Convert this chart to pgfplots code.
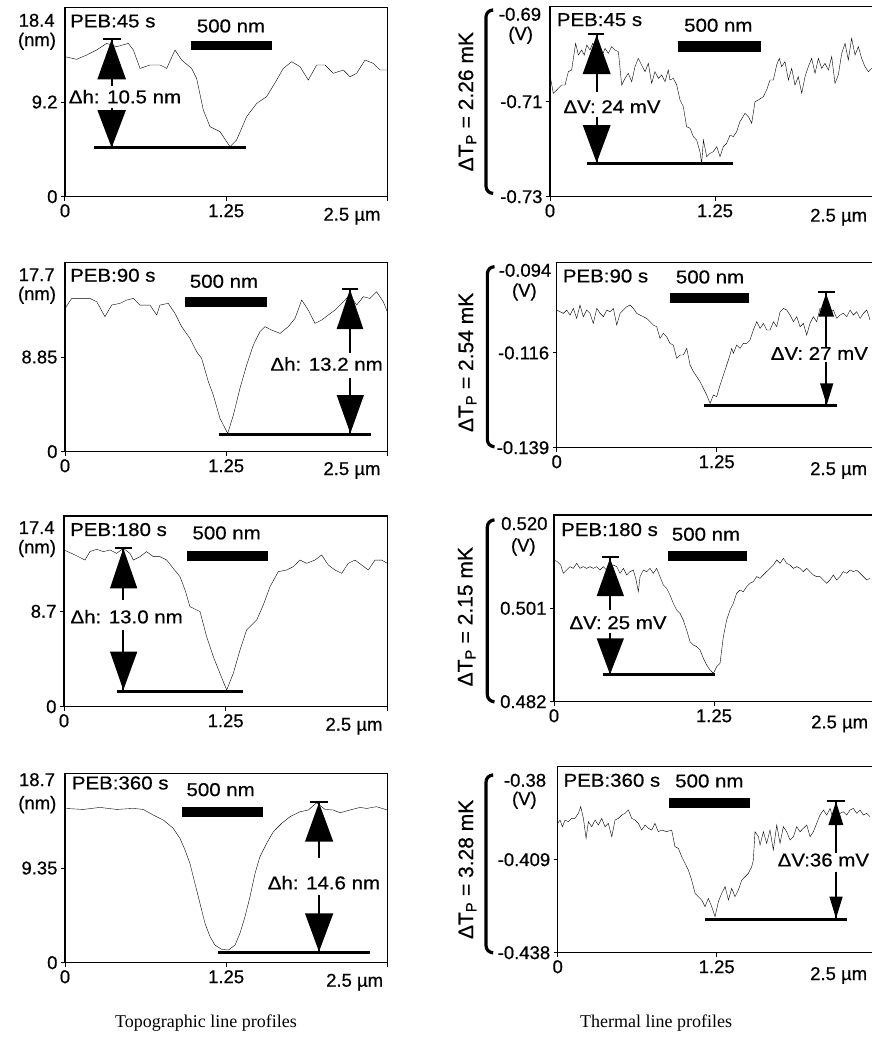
\documentclass[border=0pt]{standalone}
\usepackage{pgfplots}
\pgfplotsset{compat=1.18}
\usepackage{fontspec}
\setmainfont{Liberation Sans}[FakeBold=0.6]
\newfontfamily\annf[FakeStretch=1.1,FakeBold=0.6]{Liberation Sans}
\newfontfamily\capf{Liberation Serif}
\newcommand\tickfont{\fontsize{18.5}{20}\selectfont}
\newcommand\annfont{\annf\fontsize{18.6}{20}\selectfont}
\newcommand\rotfont{\fontsize{21}{22}\selectfont}
\newcommand{\tri}[5]{\fill (axis cs:#1,#2) -- (axis cs:#3,#5) -- (axis cs:#4,#5) -- cycle;}
\newcommand{\vl}[3]{\draw[line width=2.2pt] (axis cs:#1,#2) -- (axis cs:#1,#3);}
\newcommand{\hl}[4]{\draw[line width=#4] (axis cs:#2,#1) -- (axis cs:#3,#1);}
\newcommand{\sbar}[4]{\fill (axis cs:#1,#3) rectangle (axis cs:#2,#4);}
\newcommand{\brk}[4]{\draw[line width=3.2pt, rounded corners=7pt] (axis cs:#2,#3) -- (axis cs:#1,#3) -- (axis cs:#1,#4) -- (axis cs:#2,#4);}
\tikzset{an/.style={font=\annfont}}
\pgfplotsset{
 prof/.style={scale only axis, anchor=south west, xmin=0, xmax=2.5,
   axis line style={line width=1.3pt}, tick align=outside, tick pos=left,
   major tick length=4pt, every tick/.style={black, line width=1pt},
   xtick={0,1.25,2.5}, xticklabels={0,1.25,{}},
   ticklabel style={font=\tickfont},
   cycle list={{black, line width=1pt, mark=none}}},
 ann/.style={scale only axis, anchor=south west, hide axis, clip=false, y dir=reverse},
}
\begin{document}
\begin{tikzpicture}[x=1pt,y=1pt]
\useasboundingbox (0,0) rectangle (872,1054);
% ================= L1
\begin{axis}[prof, at={(65pt,857.3pt)}, width=322.3pt, height=189.3pt,
  ymin=0, ymax=18.4, ytick={0,9.2}, yticklabels={0,9.2}]
\addplot coordinates {(0,13.61)(0.090,13.35)(0.168,13.77)(0.246,14.26)(0.323,14.90)(0.401,14.58)(0.491,14.90)(0.530,14.26)(0.582,12.47)(0.659,12.80)(0.737,12.80)(0.789,12.47)(0.853,14.26)(0.905,13.28)(0.982,12.47)(1.021,11.50)(1.073,8.42)(1.125,6.80)(1.202,6.32)(1.280,4.86)(1.331,5.51)(1.409,7.78)(1.487,9.07)(1.564,9.72)(1.642,11.34)(1.693,12.47)(1.758,13.12)(1.823,12.64)(1.887,11.34)(1.952,12.80)(2.017,12.80)(2.081,11.99)(2.159,12.31)(2.210,11.66)(2.262,11.99)(2.327,13.28)(2.391,12.96)(2.443,12.31)(2.5,12.31)};
\end{axis}
\begin{axis}[ann, at={(65pt,857.3pt)}, width=322.3pt, height=189.3pt,
  xmin=195, xmax=1162, ymin=22, ymax=590]
\node[anchor=base, font=\tickfont] at (axis cs:110,80) {18.4};
\node[anchor=base, font=\tickfont] at (axis cs:111,138) {(nm)};
\node[anchor=base east, font=\tickfont] at (axis cs:1152,662) {2.5 µm};
\node[an, anchor=base west] at (axis cs:200,82) {PEB:45 s};
\node[an, anchor=base] at (axis cs:693,97) {500 nm};
\sbar{572}{815}{122}{150}
\node[an] at (axis cs:375,290) {Δh: 10.5 nm};
\hl{118}{308}{362}{2pt}
\vl{335}{118}{258}
\tri{335}{118}{292}{378}{238}
\vl{335}{325}{443}
\tri{335}{443}{292}{378}{330}
\hl{443}{283}{738}{3pt}
\end{axis}
% ================= L2
\begin{axis}[prof, at={(65pt,602.3pt)}, width=322.3pt, height=189.3pt,
  ymin=0, ymax=17.7, ytick={0,8.85}, yticklabels={0,8.85}]
\addplot coordinates {(0,13.40)(0.052,14.33)(0.116,14.33)(0.194,14.33)(0.246,14.02)(0.310,12.62)(0.362,13.71)(0.427,13.87)(0.478,14.18)(0.530,14.33)(0.582,13.71)(0.659,13.71)(0.711,12.78)(0.737,13.71)(0.801,13.87)(0.853,12.93)(0.905,11.69)(0.969,10.59)(1.021,9.35)(1.060,8.72)(1.112,6.54)(1.150,5.30)(1.202,3.12)(1.262,1.71)(1.306,3.43)(1.357,5.92)(1.409,8.10)(1.461,9.97)(1.512,11.22)(1.551,11.69)(1.603,11.37)(1.668,11.06)(1.732,11.69)(1.784,12.46)(1.836,14.18)(1.887,13.24)(1.939,12.00)(1.991,12.31)(2.042,12.78)(2.094,13.24)(2.159,14.02)(2.210,14.65)(2.262,13.71)(2.314,14.49)(2.366,14.33)(2.417,14.96)(2.469,14.02)(2.5,13.09)};
\end{axis}
\begin{axis}[ann, at={(65pt,602.3pt)}, width=322.3pt, height=189.3pt,
  xmin=195, xmax=1162, ymin=22, ymax=590]
\node[anchor=base, font=\tickfont] at (axis cs:110,78) {17.7};
\node[anchor=base, font=\tickfont] at (axis cs:111,135) {(nm)};
\node[anchor=base east, font=\tickfont] at (axis cs:1152,660) {2.5 µm};
\node[an, anchor=base west] at (axis cs:200,80) {PEB:90 s};
\node[an, anchor=base] at (axis cs:672,98) {500 nm};
\sbar{555}{802}{125}{157}
\node[an] at (axis cs:980,327) {Δh: 13.2 nm};
\hl{103}{1025}{1075}{2pt}
\vl{1050}{103}{295}
\tri{1050}{103}{1010}{1090}{222}
\vl{1050}{370}{537}
\tri{1051}{535}{1010}{1092}{420}
\hl{537}{658}{1113}{3pt}
\end{axis}
% ================= L3
\begin{axis}[prof, at={(64pt,347.3pt)}, width=323.3pt, height=190.7pt,
  ymin=0, ymax=17.4, ytick={0,8.7}, yticklabels={0,8.7}]
\addplot coordinates {(0,14.30)(0.059,13.99)(0.111,13.69)(0.162,13.38)(0.201,14.15)(0.253,14.36)(0.304,14.15)(0.356,14.30)(0.407,13.99)(0.459,14.45)(0.510,13.99)(0.536,13.38)(0.588,13.69)(0.639,14.15)(0.691,13.69)(0.742,13.69)(0.794,13.38)(0.845,12.62)(0.897,11.86)(0.936,10.65)(0.974,9.13)(1.052,8.67)(1.103,6.39)(1.155,4.56)(1.206,3.04)(1.258,1.52)(1.309,3.04)(1.361,5.17)(1.412,7.00)(1.490,7.91)(1.541,9.28)(1.593,10.95)(1.657,12.32)(1.722,12.47)(1.773,12.78)(1.825,13.38)(1.876,13.08)(1.941,13.38)(1.992,13.84)(2.044,12.93)(2.095,12.47)(2.147,12.17)(2.198,13.08)(2.250,13.38)(2.302,12.93)(2.353,12.47)(2.405,13.38)(2.456,13.38)(2.5,13.08)};
\end{axis}
\begin{axis}[ann, at={(64pt,347.3pt)}, width=323.3pt, height=190.7pt,
  xmin=192, xmax=1162, ymin=18, ymax=590]
\node[anchor=base, font=\tickfont] at (axis cs:110,72) {17.4};
\node[anchor=base, font=\tickfont] at (axis cs:111,130) {(nm)};
\node[anchor=base east, font=\tickfont] at (axis cs:1158,662) {2.5 µm};
\node[an, anchor=base west] at (axis cs:200,78) {PEB:180 s};
\node[an, anchor=base] at (axis cs:680,88) {500 nm};
\sbar{562}{805}{122}{152}
\node[an] at (axis cs:380,320) {Δh: 13.0 nm};
\hl{115}{345}{395}{2pt}
\vl{370}{115}{270}
\tri{370}{115}{330}{412}{235}
\vl{370}{360}{543}
\tri{370}{540}{330}{412}{425}
\hl{543}{352}{728}{3pt}
\end{axis}
% ================= L4
\begin{axis}[prof, at={(65pt,91.3pt)}, width=322.3pt, height=189.3pt,
  ymin=0, ymax=18.7, ytick={0,9.35}, yticklabels={0,9.35}]
\addplot coordinates {(0,15.24)(0.142,15.14)(0.271,15.34)(0.401,15.14)(0.530,15.24)(0.608,15.14)(0.685,14.58)(0.763,14.09)(0.840,13.27)(0.892,12.28)(0.931,11.13)(0.969,9.81)(1.008,7.83)(1.047,5.86)(1.086,3.88)(1.125,2.57)(1.163,1.74)(1.215,1.32)(1.267,1.25)(1.319,1.74)(1.357,2.90)(1.396,4.54)(1.435,6.52)(1.474,8.82)(1.512,10.47)(1.564,11.79)(1.616,12.94)(1.680,13.76)(1.745,14.42)(1.823,14.91)(1.887,15.08)(1.952,15.80)(2.017,15.14)(2.081,15.08)(2.133,14.81)(2.210,15.08)(2.288,15.34)(2.340,15.24)(2.417,15.41)(2.5,15.08)};
\end{axis}
\begin{axis}[ann, at={(65pt,91.3pt)}, width=322.3pt, height=189.3pt,
  xmin=195, xmax=1162, ymin=40, ymax=608]
\node[anchor=base, font=\tickfont] at (axis cs:111,78) {18.7};
\node[anchor=base, font=\tickfont] at (axis cs:112,148) {(nm)};
\node[anchor=base east, font=\tickfont] at (axis cs:1160,680) {2.5 µm};
\node[an, anchor=base west] at (axis cs:205,88) {PEB:360 s};
\node[an, anchor=base] at (axis cs:662,108) {500 nm};
\sbar{545}{788}{140}{170}
\node[an] at (axis cs:972,368) {Δh: 14.6 nm};
\hl{125}{930}{985}{2pt}
\vl{957}{125}{295}
\tri{957}{128}{915}{1000}{245}
\vl{957}{405}{577}
\tri{957}{575}{915}{1000}{460}
\hl{577}{655}{1110}{3pt}
\end{axis}
% ================= R1
\begin{axis}[prof, at={(550pt,857.3pt)}, width=330pt, height=190pt,
  ymin=-0.73, ymax=-0.69, ytick={-0.73,-0.71}, yticklabels={-0.73,-0.71}]
\addplot coordinates {(0.000,-0.70438)(0.025,-0.70824)(0.051,-0.70754)(0.088,-0.70649)(0.114,-0.70649)(0.139,-0.70368)(0.164,-0.70333)(0.177,-0.70088)(0.194,-0.69772)(0.215,-0.70017)(0.240,-0.69912)(0.260,-0.70017)(0.278,-0.69807)(0.303,-0.69912)(0.323,-0.69772)(0.348,-0.69947)(0.366,-0.69737)(0.391,-0.70052)(0.417,-0.69877)(0.442,-0.69982)(0.467,-0.69842)(0.492,-0.69912)(0.518,-0.69947)(0.543,-0.70649)(0.568,-0.70509)(0.593,-0.70403)(0.619,-0.70579)(0.644,-0.70263)(0.669,-0.70088)(0.694,-0.70228)(0.720,-0.70368)(0.745,-0.70193)(0.770,-0.70614)(0.795,-0.70368)(0.821,-0.70509)(0.846,-0.70438)(0.871,-0.70579)(0.896,-0.70333)(0.909,-0.70544)(0.934,-0.70509)(0.960,-0.70649)(0.985,-0.70965)(1.010,-0.71105)(1.035,-0.71526)(1.061,-0.71561)(1.086,-0.71737)(1.111,-0.71807)(1.136,-0.72053)(1.149,-0.72298)(1.162,-0.71807)(1.187,-0.72158)(1.212,-0.72088)(1.237,-0.72053)(1.263,-0.71947)(1.288,-0.72158)(1.313,-0.71947)(1.338,-0.71877)(1.364,-0.71702)(1.389,-0.71737)(1.414,-0.71631)(1.439,-0.71421)(1.477,-0.71245)(1.503,-0.71316)(1.528,-0.71456)(1.553,-0.71000)(1.578,-0.70965)(1.616,-0.70895)(1.641,-0.70754)(1.667,-0.70544)(1.692,-0.70544)(1.717,-0.70228)(1.737,-0.70088)(1.755,-0.70263)(1.780,-0.70158)(1.806,-0.70544)(1.831,-0.70298)(1.856,-0.70649)(1.881,-0.70474)(1.907,-0.70824)(1.932,-0.70474)(1.957,-0.70263)(1.982,-0.70088)(2.008,-0.70403)(2.033,-0.70088)(2.058,-0.70298)(2.083,-0.70193)(2.109,-0.70333)(2.134,-0.70052)(2.159,-0.70614)(2.184,-0.70438)(2.210,-0.69982)(2.235,-0.69772)(2.260,-0.70123)(2.285,-0.69666)(2.311,-0.70017)(2.336,-0.69842)(2.361,-0.70088)(2.386,-0.70263)(2.412,-0.70368)(2.437,-0.70298)};
\end{axis}
\begin{axis}[ann, at={(550pt,857.3pt)}, width=330pt, height=190pt,
  xmin=360, xmax=1350, ymin=20, ymax=590]
\node[anchor=base, font=\tickfont] at (axis cs:270,62) {-0.69};
\node[anchor=base, font=\tickfont] at (axis cs:272,120) {(V)};
\node[anchor=base east, font=\tickfont] at (axis cs:1322,665) {2.5 µm};
\node[rotate=90, font=\rotfont] at (axis cs:112,305) {ΔT\textsubscript{P} = 2.26 mK};
\brk{168}{186}{30}{580}
\node[an, anchor=base west] at (axis cs:370,78) {PEB:45 s};
\node[an, anchor=base] at (axis cs:865,95) {500 nm};
\sbar{745}{993}{123}{155}
\node[an] at (axis cs:546,320) {ΔV: 24 mV};
\hl{103}{475}{522}{2pt}
\vl{500}{103}{275}
\tri{500}{105}{458}{542}{222}
\vl{500}{350}{488}
\tri{500}{488}{458}{542}{375}
\hl{490}{470}{910}{3pt}
\end{axis}
% ================= R2
\begin{axis}[prof, at={(556.7pt,606.3pt)}, width=320pt, height=185.3pt,
  ymin=-0.139, ymax=-0.094, ytick={-0.139,-0.116}, yticklabels={-0.139,-0.116}]
\addplot coordinates {(0,-0.10557)(0.026,-0.10598)(0.052,-0.10638)(0.078,-0.10557)(0.104,-0.10679)(0.130,-0.10517)(0.156,-0.10760)(0.182,-0.10436)(0.208,-0.10719)(0.234,-0.10557)(0.260,-0.10638)(0.286,-0.10881)(0.313,-0.10517)(0.339,-0.10638)(0.365,-0.10719)(0.391,-0.10557)(0.417,-0.10598)(0.443,-0.10517)(0.469,-0.10921)(0.495,-0.10638)(0.521,-0.10557)(0.547,-0.10476)(0.573,-0.10436)(0.599,-0.10517)(0.625,-0.10638)(0.651,-0.10679)(0.677,-0.10719)(0.703,-0.10760)(0.729,-0.10840)(0.755,-0.10921)(0.781,-0.10962)(0.807,-0.11245)(0.833,-0.11124)(0.859,-0.11205)(0.885,-0.11367)(0.911,-0.11407)(0.938,-0.11731)(0.964,-0.11650)(0.990,-0.11650)(1.016,-0.11488)(1.042,-0.11893)(1.068,-0.12055)(1.094,-0.12176)(1.120,-0.12297)(1.146,-0.12459)(1.172,-0.12621)(1.198,-0.12823)(1.224,-0.12621)(1.250,-0.12662)(1.276,-0.12378)(1.302,-0.12136)(1.328,-0.11893)(1.354,-0.11650)(1.367,-0.11488)(1.380,-0.11609)(1.406,-0.11407)(1.432,-0.11488)(1.458,-0.11367)(1.484,-0.11367)(1.510,-0.11286)(1.536,-0.11043)(1.563,-0.10840)(1.589,-0.11002)(1.615,-0.10881)(1.641,-0.11043)(1.667,-0.11043)(1.693,-0.10840)(1.719,-0.10962)(1.745,-0.10598)(1.771,-0.10517)(1.797,-0.10557)(1.823,-0.10679)(1.849,-0.10840)(1.875,-0.10719)(1.901,-0.10962)(1.927,-0.10881)(1.953,-0.11164)(1.979,-0.10881)(2.005,-0.10719)(2.031,-0.10840)(2.057,-0.10517)(2.083,-0.10598)(2.109,-0.10436)(2.135,-0.10638)(2.161,-0.10557)(2.188,-0.10760)(2.214,-0.10679)(2.240,-0.10638)(2.266,-0.10719)(2.292,-0.10557)(2.318,-0.10679)(2.344,-0.10598)(2.370,-0.10760)(2.396,-0.10638)(2.422,-0.10557)(2.448,-0.10800)};
\end{axis}
\begin{axis}[ann, at={(556.7pt,606.3pt)}, width=320pt, height=185.3pt,
  xmin=380, xmax=1340, ymin=22, ymax=578]
\node[anchor=base, font=\tickfont] at (axis cs:285,65) {-0.094};
\node[anchor=base, font=\tickfont] at (axis cs:283,125) {(V)};
\node[anchor=base east, font=\tickfont] at (axis cs:1322,660) {2.5 µm};
\node[rotate=90, font=\rotfont] at (axis cs:112,322) {ΔT\textsubscript{P} = 2.54 mK};
\brk{172}{190}{35}{575}
\node[an, anchor=base west] at (axis cs:388,82) {PEB:90 s};
\node[an, anchor=base] at (axis cs:840,85) {500 nm};
\sbar{720}{958}{115}{145}
\node[an] at (axis cs:1168,295) {ΔV: 27 mV};
\hl{112}{1165}{1215}{2pt}
\vl{1188}{112}{280}
\tri{1188}{115}{1165}{1212}{185}
\vl{1188}{320}{450}
\tri{1190}{450}{1170}{1210}{385}
\hl{450}{822}{1222}{3pt}
\end{axis}
% ================= R3
\begin{axis}[prof, at={(554pt,352.3pt)}, width=320pt, height=186.7pt,
  ymin=0.482, ymax=0.520, ytick={0.482,0.501}, yticklabels={0.482,0.501}]
\addplot coordinates {(0,0.51084)(0.026,0.51050)(0.052,0.50982)(0.073,0.50813)(0.099,0.50880)(0.125,0.50948)(0.151,0.50914)(0.177,0.51016)(0.203,0.50914)(0.229,0.50948)(0.255,0.50914)(0.281,0.50948)(0.307,0.50914)(0.333,0.50948)(0.359,0.50880)(0.385,0.50948)(0.411,0.50880)(0.438,0.50914)(0.464,0.50982)(0.490,0.50948)(0.516,0.50813)(0.542,0.50914)(0.568,0.50779)(0.594,0.50847)(0.620,0.50880)(0.641,0.50677)(0.659,0.50439)(0.672,0.50745)(0.698,0.50880)(0.724,0.50847)(0.750,0.50914)(0.776,0.50813)(0.802,0.50914)(0.828,0.50745)(0.854,0.50575)(0.880,0.50507)(0.906,0.50372)(0.932,0.50202)(0.958,0.50066)(0.984,0.49998)(1.010,0.49863)(1.036,0.49659)(1.063,0.49421)(1.089,0.49354)(1.115,0.49320)(1.141,0.49252)(1.167,0.49082)(1.193,0.48946)(1.219,0.48845)(1.245,0.48777)(1.271,0.48913)(1.297,0.48980)(1.323,0.49523)(1.349,0.49863)(1.375,0.50066)(1.401,0.50202)(1.427,0.50405)(1.453,0.50473)(1.479,0.50439)(1.505,0.50541)(1.531,0.50609)(1.557,0.50643)(1.583,0.50745)(1.609,0.50711)(1.635,0.50779)(1.661,0.50847)(1.688,0.50914)(1.714,0.50982)(1.740,0.51084)(1.766,0.51016)(1.792,0.51118)(1.818,0.51016)(1.844,0.50982)(1.870,0.50914)(1.896,0.50948)(1.922,0.50914)(1.948,0.50847)(1.974,0.50914)(2.000,0.50847)(2.026,0.50779)(2.052,0.50745)(2.078,0.50745)(2.104,0.50677)(2.130,0.50609)(2.156,0.50677)(2.182,0.50779)(2.208,0.50677)(2.234,0.50745)(2.260,0.50847)(2.286,0.50813)(2.313,0.50880)(2.339,0.50847)(2.365,0.50880)(2.391,0.50813)(2.417,0.50745)(2.443,0.50677)(2.469,0.50711)};
\end{axis}
\begin{axis}[ann, at={(554pt,352.3pt)}, width=320pt, height=186.7pt,
  xmin=372, xmax=1332, ymin=15, ymax=575]
\node[anchor=base, font=\tickfont] at (axis cs:283,60) {0.520};
\node[anchor=base, font=\tickfont] at (axis cs:280,125) {(V)};
\node[anchor=base east, font=\tickfont] at (axis cs:1325,655) {2.5 µm};
\node[rotate=90, font=\rotfont] at (axis cs:110,320) {ΔT\textsubscript{P} = 2.15 mK};
\brk{172}{188}{30}{575}
\node[an, anchor=base west] at (axis cs:383,78) {PEB:180 s};
\node[an, anchor=base] at (axis cs:828,92) {500 nm};
\sbar{715}{952}{122}{152}
\node[an] at (axis cs:564,338) {ΔV: 25 mV};
\hl{140}{515}{568}{2pt}
\vl{540}{140}{300}
\tri{540}{145}{500}{582}{258}
\vl{540}{370}{493}
\tri{540}{493}{500}{582}{385}
\hl{493}{520}{855}{3pt}
\end{axis}
% ================= R4
\begin{axis}[prof, at={(557.7pt,101.3pt)}, width=318pt, height=186pt,
  ymin=-0.438, ymax=-0.38, ytick={-0.438,-0.409}, yticklabels={-0.438,-0.409}]
\addplot coordinates {(0,-0.39767)(0.018,-0.39663)(0.037,-0.39871)(0.058,-0.39663)(0.084,-0.39715)(0.110,-0.39611)(0.136,-0.39611)(0.162,-0.39455)(0.181,-0.39247)(0.202,-0.39611)(0.223,-0.40235)(0.241,-0.39715)(0.267,-0.39871)(0.294,-0.39663)(0.320,-0.39819)(0.346,-0.39611)(0.372,-0.39871)(0.398,-0.39767)(0.425,-0.40183)(0.451,-0.39663)(0.477,-0.39611)(0.503,-0.39507)(0.529,-0.39455)(0.556,-0.39351)(0.582,-0.39611)(0.608,-0.39663)(0.634,-0.39767)(0.660,-0.39975)(0.687,-0.39819)(0.713,-0.39923)(0.739,-0.39975)(0.765,-0.39767)(0.791,-0.40027)(0.818,-0.39975)(0.857,-0.40027)(0.896,-0.39975)(0.922,-0.40495)(0.949,-0.40547)(0.975,-0.40807)(1.001,-0.41014)(1.027,-0.41222)(1.053,-0.41534)(1.080,-0.41950)(1.106,-0.42054)(1.132,-0.42158)(1.158,-0.42366)(1.184,-0.42106)(1.211,-0.42366)(1.237,-0.42677)(1.263,-0.42210)(1.289,-0.41950)(1.316,-0.41742)(1.342,-0.42158)(1.368,-0.41794)(1.394,-0.42054)(1.420,-0.41846)(1.447,-0.41534)(1.473,-0.41430)(1.499,-0.41326)(1.525,-0.41118)(1.538,-0.40910)(1.551,-0.40027)(1.578,-0.40183)(1.591,-0.40443)(1.617,-0.40027)(1.643,-0.40391)(1.669,-0.39975)(1.695,-0.40599)(1.722,-0.39819)(1.748,-0.40391)(1.774,-0.39871)(1.800,-0.40027)(1.827,-0.40287)(1.853,-0.40183)(1.879,-0.39871)(1.905,-0.40027)(1.931,-0.39923)(1.958,-0.39819)(1.984,-0.40183)(2.010,-0.40027)(2.036,-0.39767)(2.062,-0.39507)(2.089,-0.39351)(2.115,-0.39507)(2.141,-0.39299)(2.167,-0.39663)(2.193,-0.39507)(2.220,-0.39455)(2.246,-0.39403)(2.272,-0.39507)(2.298,-0.39351)(2.324,-0.39299)(2.351,-0.39455)(2.377,-0.39351)(2.403,-0.39507)(2.429,-0.39455)(2.455,-0.39559)};
\end{axis}
\begin{axis}[ann, at={(557.7pt,101.3pt)}, width=318pt, height=186pt,
  xmin=383, xmax=1337, ymin=20, ymax=578]
\node[anchor=base, font=\tickfont] at (axis cs:285,80) {-0.38};
\node[anchor=base, font=\tickfont] at (axis cs:283,135) {(V)};
\node[anchor=base east, font=\tickfont] at (axis cs:1322,660) {2.5 µm};
\node[rotate=90, font=\rotfont] at (axis cs:112,328) {ΔT\textsubscript{P} = 3.28 mK};
\brk{168}{185}{45}{578}
\node[an, anchor=base west] at (axis cs:390,80) {PEB:360 s};
\node[an, anchor=base] at (axis cs:838,82) {500 nm};
\sbar{718}{960}{115}{145}
\node[an] at (axis cs:1180,300) {ΔV:36 mV};
\hl{122}{1190}{1245}{2pt}
\vl{1218}{122}{280}
\tri{1218}{125}{1195}{1240}{195}
\vl{1218}{335}{477}
\tri{1218}{475}{1198}{1238}{410}
\hl{477}{825}{1250}{3pt}
\end{axis}
% captions
\node[font=\capf\fontsize{18}{20}\selectfont, anchor=base] at (206,27) {Topographic line profiles};
\node[font=\capf\fontsize{18}{20}\selectfont, anchor=base] at (656,27) {Thermal line profiles};
\end{tikzpicture}
\end{document}
